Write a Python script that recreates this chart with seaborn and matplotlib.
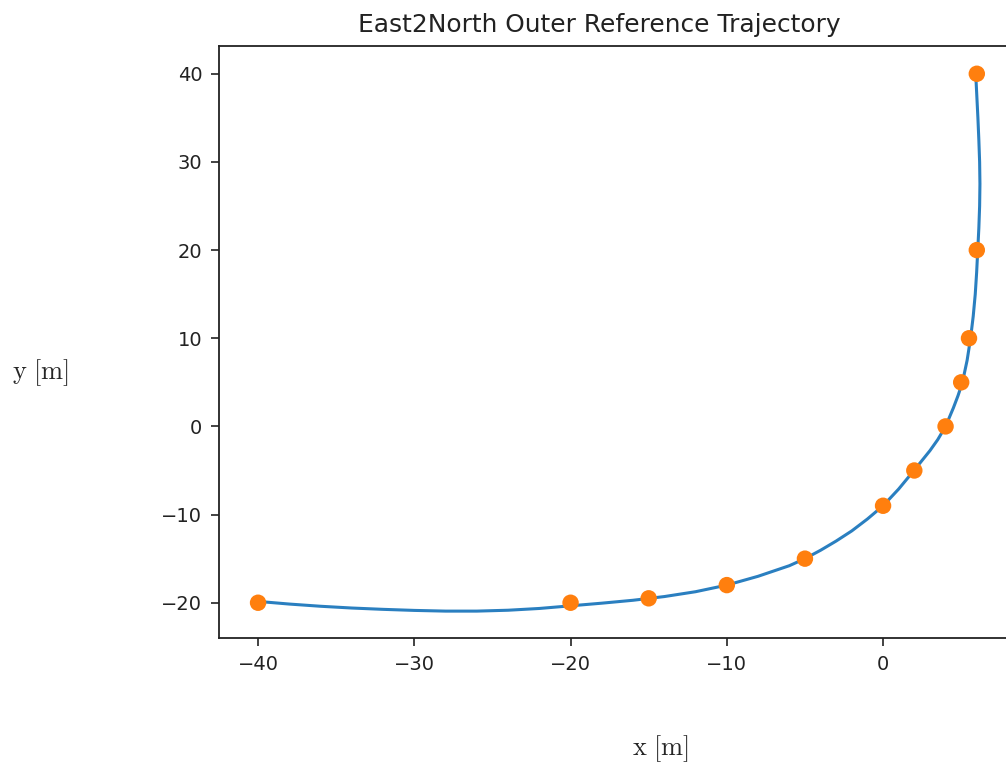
import matplotlib
matplotlib.use("Agg")
import matplotlib.pyplot as plt
import seaborn as sns
import pandas as pd

# Waypoints (orange markers)
wp_x = [-40, -20, -15, -10, -5, 0, 2, 4, 5, 5.5, 6, 6]
wp_y = [-20, -20, -19.5, -18, -15, -9, -5, 0, 5, 10, 20, 40]

# Reference trajectory (blue curve)
traj_x = [-40, -38, -36, -34, -32, -30, -28, -26, -24, -22, -20, -18, -16, -14,
          -12, -10, -8, -6, -5, -4, -3, -2, -1, 0, 1, 2, 3, 3.5, 4, 4.5, 4.8, 5.08,
          5.38, 5.6, 5.77, 5.9, 5.99, 6.06, 6.13, 6.18, 6.2, 6.18, 6.13, 6.07,
          6.0, 5.93]
traj_y = [-19.85, -20.15, -20.4, -20.6, -20.75, -20.87, -20.95, -20.95, -20.85,
          -20.65, -20.35, -20.05, -19.72, -19.3, -18.75, -18.0, -17.0, -15.8,
          -15.0, -14.05, -13.0, -11.85, -10.5, -9.0, -7.1, -4.95, -2.75, -1.5, 0,
          2.1, 3.5, 5.0, 7.5, 10, 12.5, 15, 17.5, 20, 22.5, 25, 27.5, 30, 32.5,
          35, 37.5, 40]

title = "East2North Outer Reference Trajectory"
xlabel = r"$\mathrm{x\ [m]}$"
ylabel = r"$\mathrm{y\ [m]}$"

sns.set_theme(style="ticks")
plt.rcParams["font.family"] = ["DejaVu Sans"]
plt.rcParams["mathtext.fontset"] = "cm"

traj = pd.DataFrame({"x": traj_x, "y": traj_y})
wps = pd.DataFrame({"x": wp_x, "y": wp_y})

fig = plt.figure(figsize=(10.06, 7.67), dpi=100)
ax = fig.add_axes([219 / 1006, 129 / 767, (1020 - 219) / 1006, (638 - 46) / 767])

sns.lineplot(data=traj, x="x", y="y", sort=False, estimator=None, ax=ax,
             color="#2a7fc0", linewidth=2.2, zorder=2)
sns.scatterplot(data=wps, x="x", y="y", ax=ax, color="#ff7f0e", s=140,
                edgecolor="none", zorder=3)

# keep the data scale of the reference (0 at 883 px, 15.625 px per metre)
ax.set_xlim(-42.5, -42.5 + (1020 - 219) / 15.625)
ax.set_ylim(-24.0, 43.15)
ax.set_xticks([-40, -30, -20, -10, 0])
ax.set_yticks([-20, -10, 0, 10, 20, 30, 40])
ax.set_xlabel("")
ax.set_ylabel("")
ax.tick_params(labelsize=14, length=6, width=1.2, pad=6, colors="#222222")
for sp in ax.spines.values():
    sp.set_color("#222222")
    sp.set_linewidth(1.3)
ax.set_title(title, fontsize=17.9, x=(599 - 219) / (1020 - 219), pad=10, color="#222222")

fig.text(661 / 1006, 1 - 749 / 767, xlabel, ha="center", va="center", fontsize=19)
fig.text(41 / 1006, 1 - 373 / 767, ylabel, ha="center", va="center", fontsize=19)

fig.savefig("out.png", dpi=100)
